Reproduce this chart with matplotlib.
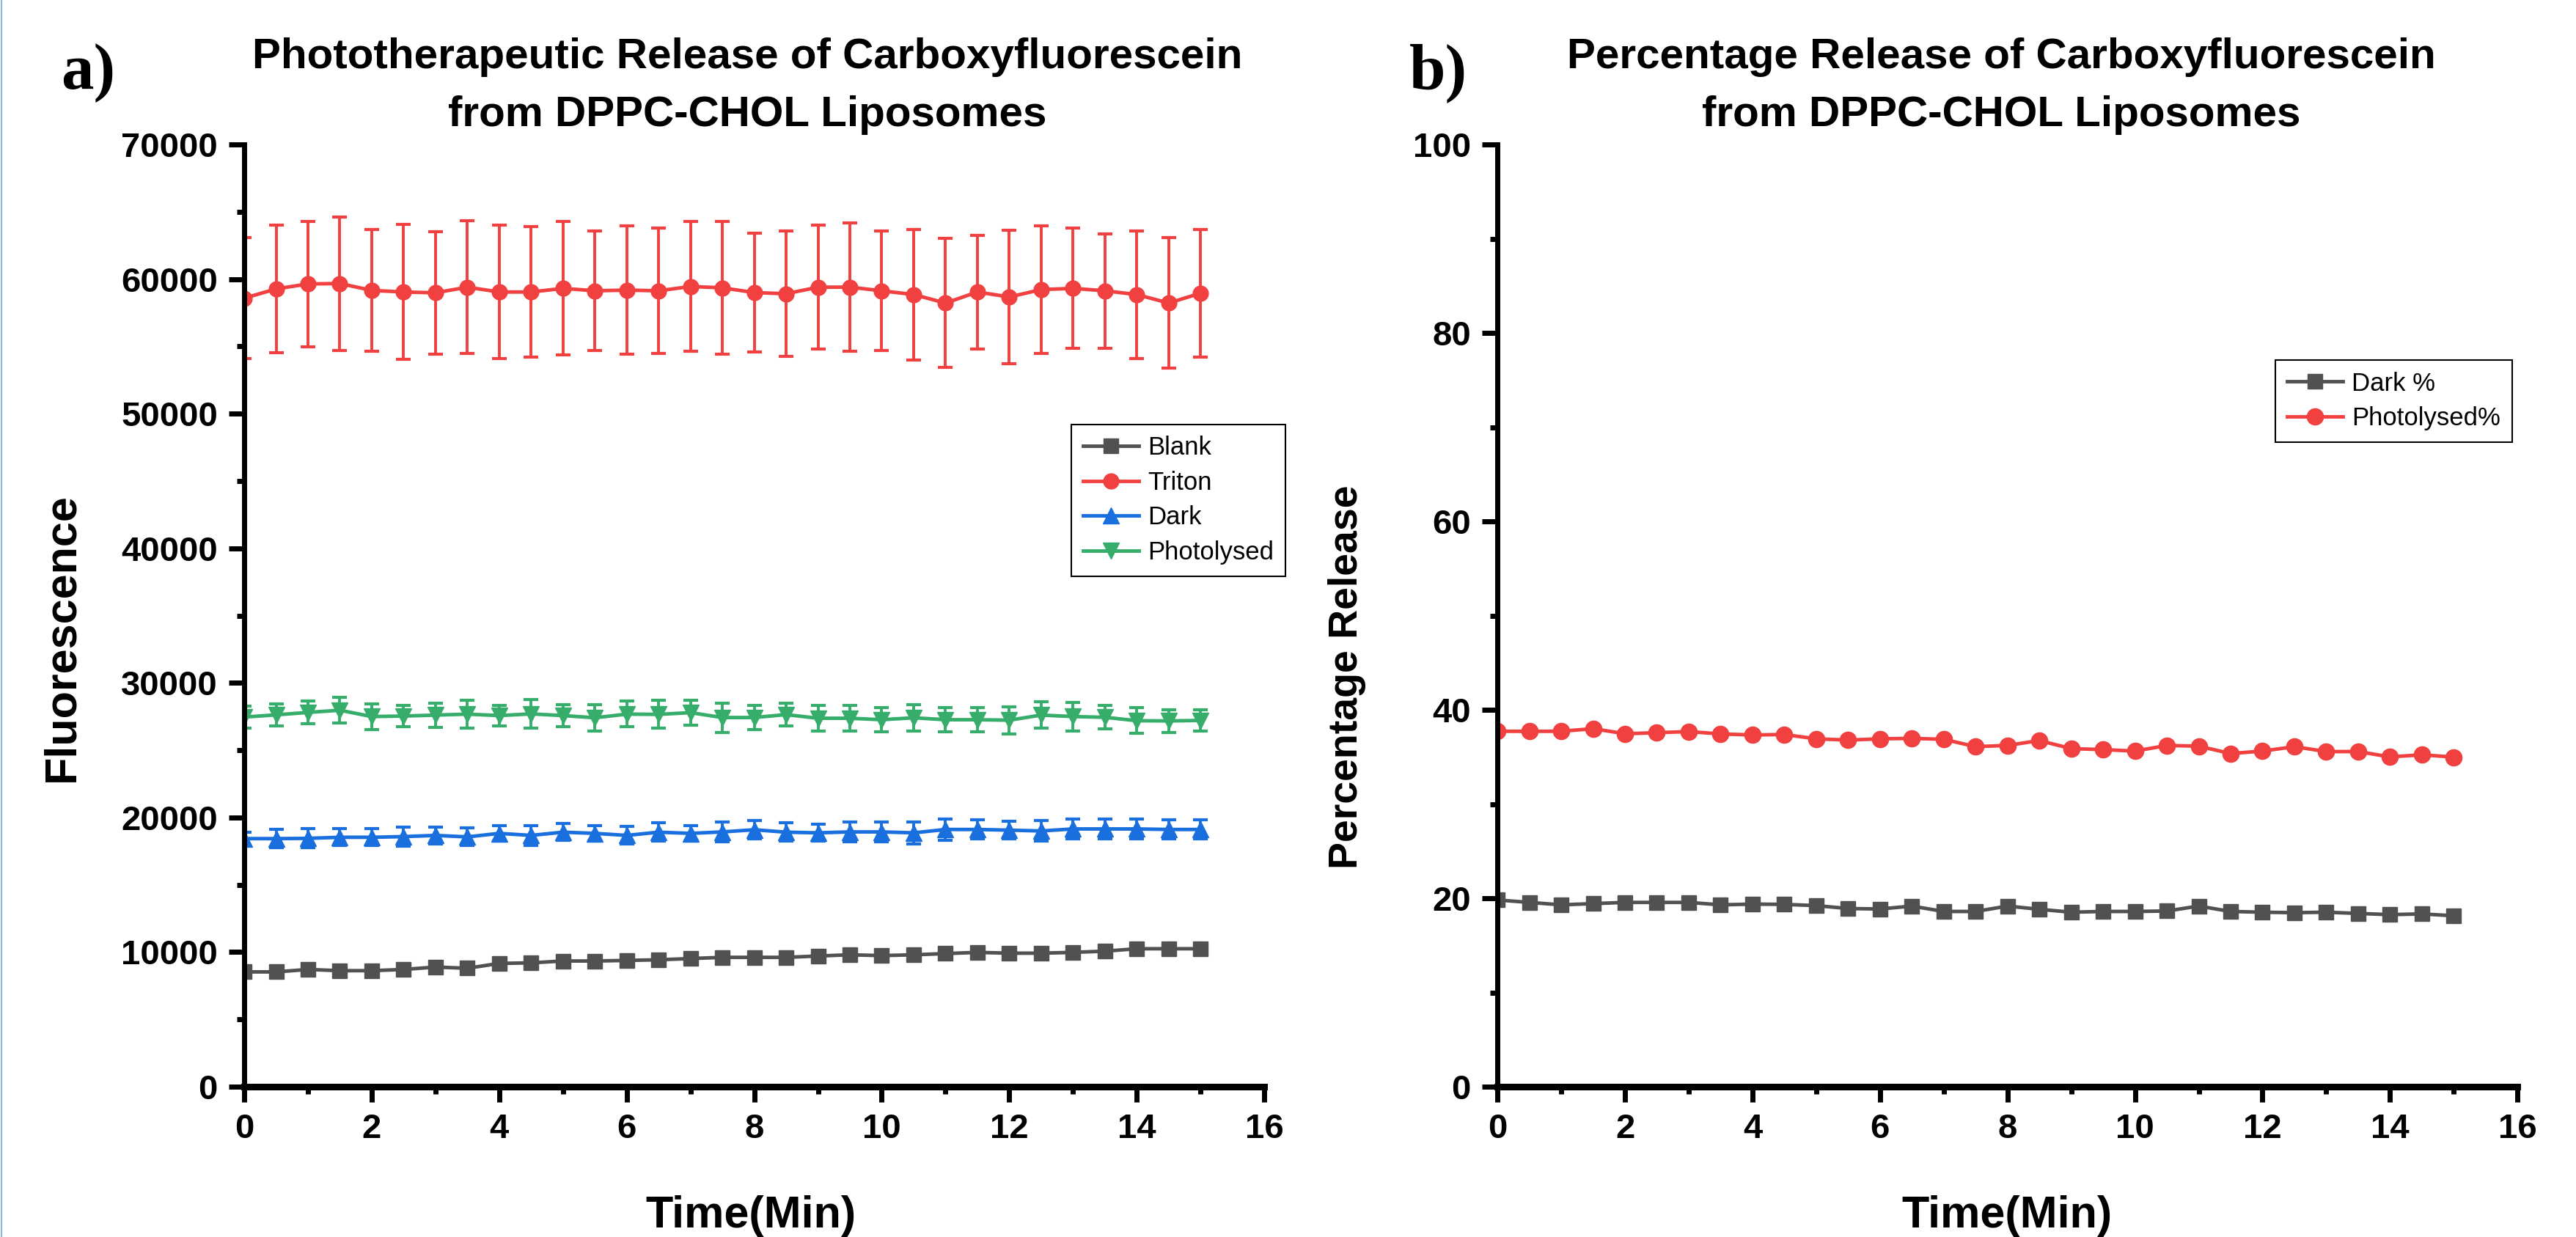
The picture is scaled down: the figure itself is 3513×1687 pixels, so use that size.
import matplotlib
matplotlib.use('Agg')
import matplotlib.pyplot as plt
from matplotlib.lines import Line2D
from matplotlib.ticker import MultipleLocator

# Data
time_min = [0, 0.5, 1, 1.5, 2, 2.5, 3, 3.5, 4, 4.5, 5, 5.5, 6, 6.5, 7, 7.5,
            8, 8.5, 9, 9.5, 10, 10.5, 11, 11.5, 12, 12.5, 13, 13.5, 14, 14.5, 15]

blank = [8530, 8530, 8710, 8620, 8620, 8710, 8890, 8800, 9160, 9200, 9340,
         9340, 9380, 9430, 9520, 9610, 9610, 9610, 9710, 9800, 9740, 9800,
         9890, 9980, 9920, 9920, 9980, 10070, 10250, 10250, 10250]
blank_err = [300, 280, 310, 290, 300, 280, 300, 310, 290, 300, 280, 300,
             290, 310, 300, 280, 300, 290, 300, 310, 290, 300, 280, 300,
             290, 300, 310, 290, 300, 280, 300]

triton = [58580, 59270, 59640, 59670, 59160, 59040, 58980, 59400, 59040,
          59040, 59310, 59130, 59180, 59130, 59450, 59350, 59000, 58910,
          59400, 59400, 59130, 58850, 58220, 59040, 58670, 59220, 59310,
          59130, 58850, 58220, 58950]
triton_err = [4500, 4750, 4650, 4960, 4510, 5020, 4560, 4950, 4950, 4850,
              4950, 4450, 4760, 4660, 4810, 4910, 4400, 4660, 4610, 4760,
              4450, 4850, 4800, 4210, 4950, 4760, 4460, 4250, 4750, 4850, 4760]

dark = [18430, 18430, 18450, 18530, 18530, 18580, 18670, 18560, 18820,
        18670, 18910, 18820, 18670, 18910, 18820, 18930, 19090, 18910,
        18860, 18930, 18930, 18860, 19110, 19110, 19060, 19000, 19150,
        19150, 19150, 19110, 19110]
dark_err = [500, 680, 700, 630, 630, 730, 630, 660, 590, 730, 630, 590, 660,
            680, 590, 710, 680, 680, 630, 710, 710, 820, 790, 710, 650, 770,
            740, 740, 740, 710, 710]

photolysed = [27460, 27626, 27807, 27970, 27500, 27536, 27608, 27680, 27572,
              27699, 27572, 27409, 27680, 27662, 27789, 27427, 27427, 27644,
              27373, 27373, 27264, 27409, 27264, 27264, 27228, 27608, 27500,
              27445, 27191, 27173, 27210]
photolysed_err = [830, 833, 833, 942, 942, 806, 906, 1040, 743, 1040, 815,
                  997, 951, 1024, 933, 1087, 897, 843, 951, 951, 879, 997, 879,
                  879, 997, 969, 1051, 879, 951, 833, 797]

dark_pct = [19.82, 19.56, 19.30, 19.43, 19.56, 19.56, 19.56, 19.30, 19.38,
            19.35, 19.22, 18.91, 18.86, 19.17, 18.60, 18.60, 19.17, 18.83,
            18.52, 18.60, 18.60, 18.65, 19.17, 18.60, 18.52, 18.47, 18.52,
            18.39, 18.26, 18.34, 18.14]
photolysed_pct = [37.72, 37.72, 37.72, 38.00, 37.46, 37.57, 37.69, 37.44,
                  37.33, 37.38, 36.92, 36.79, 36.92, 36.97, 36.87, 36.09,
                  36.22, 36.74, 35.88, 35.78, 35.62, 36.22, 36.14, 35.36,
                  35.62, 36.09, 35.57, 35.57, 35.00, 35.23, 34.98]

# Origin-like colours
grey = '#515151'
red = '#F14040'
blue = '#1A6FDF'
green = '#37AD6B'

plt.rcParams['font.family'] = ['Liberation Sans', 'DejaVu Sans']

fig = plt.figure(figsize=(35.13, 16.87), dpi=100)
ax1 = fig.add_axes([0.0948, 0.1215, 0.3960, 0.7617])
ax2 = fig.add_axes([0.5813, 0.1215, 0.3960, 0.7617])


def style_axes(ax):
    for side in ('top', 'right'):
        ax.spines[side].set_visible(False)
    ax.spines['left'].set_linewidth(5)
    ax.spines['bottom'].set_linewidth(6.5)
    ax.tick_params(which='major', direction='out', length=15, width=5,
                   labelsize=34, pad=11)
    ax.tick_params(which='minor', direction='out', length=7, width=5)
    for lab in ax.get_xticklabels() + ax.get_yticklabels():
        lab.set_fontweight('bold')
    ax.set_xlim(0, 16)
    ax.xaxis.set_major_locator(MultipleLocator(2))
    ax.xaxis.set_minor_locator(MultipleLocator(1))


legend_kw = dict(loc='upper right', bbox_transform=fig.transFigure,
                 fontsize=25, frameon=True, fancybox=False,
                 edgecolor='black', framealpha=1, numpoints=1,
                 handlelength=2.2, handletextpad=0.35, labelspacing=0.42,
                 borderpad=0.45, borderaxespad=0)

eb_kw = dict(linewidth=3.5, elinewidth=2.8, capsize=7.5, capthick=3)
series = [(blank, blank_err, grey, 's', 15, 'Blank'),
          (triton, triton_err, red, 'o', 15, 'Triton'),
          (dark, dark_err, blue, '^', 16, 'Dark'),
          (photolysed, photolysed_err, green, 'v', 16, 'Photolysed')]
handles = []
labels = []
for vals, errs, col, mk, ms, lab in series:
    eb = ax1.errorbar(time_min, vals, yerr=errs, color=col, marker=mk,
                      markersize=ms, **eb_kw)
    handles.append(eb.lines[0])
    labels.append(lab)

ax1.set_ylim(0, 70000)
ax1.yaxis.set_major_locator(MultipleLocator(10000))
ax1.yaxis.set_minor_locator(MultipleLocator(5000))
style_axes(ax1)
leg1 = ax1.legend(handles, labels, bbox_to_anchor=(0.499, 0.657), **legend_kw)
leg1.get_frame().set_linewidth(1.5)

ax2.plot(time_min, dark_pct, color=grey, marker='s', markersize=15,
         linewidth=3.5, label='Dark %')
ax2.plot(time_min, photolysed_pct, color=red, marker='o', markersize=16,
         linewidth=3.5, label='Photolysed%')
ax2.set_ylim(0, 100)
ax2.yaxis.set_major_locator(MultipleLocator(20))
ax2.yaxis.set_minor_locator(MultipleLocator(10))
style_axes(ax2)
leg2 = ax2.legend(bbox_to_anchor=(0.9752, 0.709), **legend_kw)
leg2.get_frame().set_linewidth(1.5)

# Titles, axis labels and panel letters
fig.text(0.290, 0.970, 'Phototherapeutic Release of Carboxyfluorescein\n'
         'from DPPC-CHOL Liposomes', ha='center', va='top', fontsize=42,
         fontweight='bold', linespacing=1.6)
fig.text(0.777, 0.970, 'Percentage Release of Carboxyfluorescein\n'
         'from DPPC-CHOL Liposomes', ha='center', va='top', fontsize=42,
         fontweight='bold', linespacing=1.6)
fig.text(0.0242, 0.485, 'Fluorescence', rotation=90, ha='center',
         va='center', fontsize=44, fontweight='bold')
fig.text(0.523, 0.453, 'Percentage Release', rotation=90, ha='center',
         va='center', fontsize=40, fontweight='bold')
fig.text(0.2915, 0.017, 'Time(Min)', ha='center', va='center', fontsize=44,
         fontweight='bold')
fig.text(0.779, 0.017, 'Time(Min)', ha='center', va='center', fontsize=44,
         fontweight='bold')
fig.text(0.0236, 0.928, 'a)', ha='left', va='baseline', fontsize=64,
         fontweight='bold', family='Liberation Serif')
fig.text(0.547, 0.928, 'b)', ha='left', va='baseline', fontsize=64,
         fontweight='bold', family='Liberation Serif')

# thin blue border on the left edge
fig.add_artist(Line2D([0.0006, 0.0006], [0, 1], transform=fig.transFigure,
                      color='#8fb4e3', linewidth=1.5))

fig.savefig('out.png', dpi=100)
plt.close(fig)
